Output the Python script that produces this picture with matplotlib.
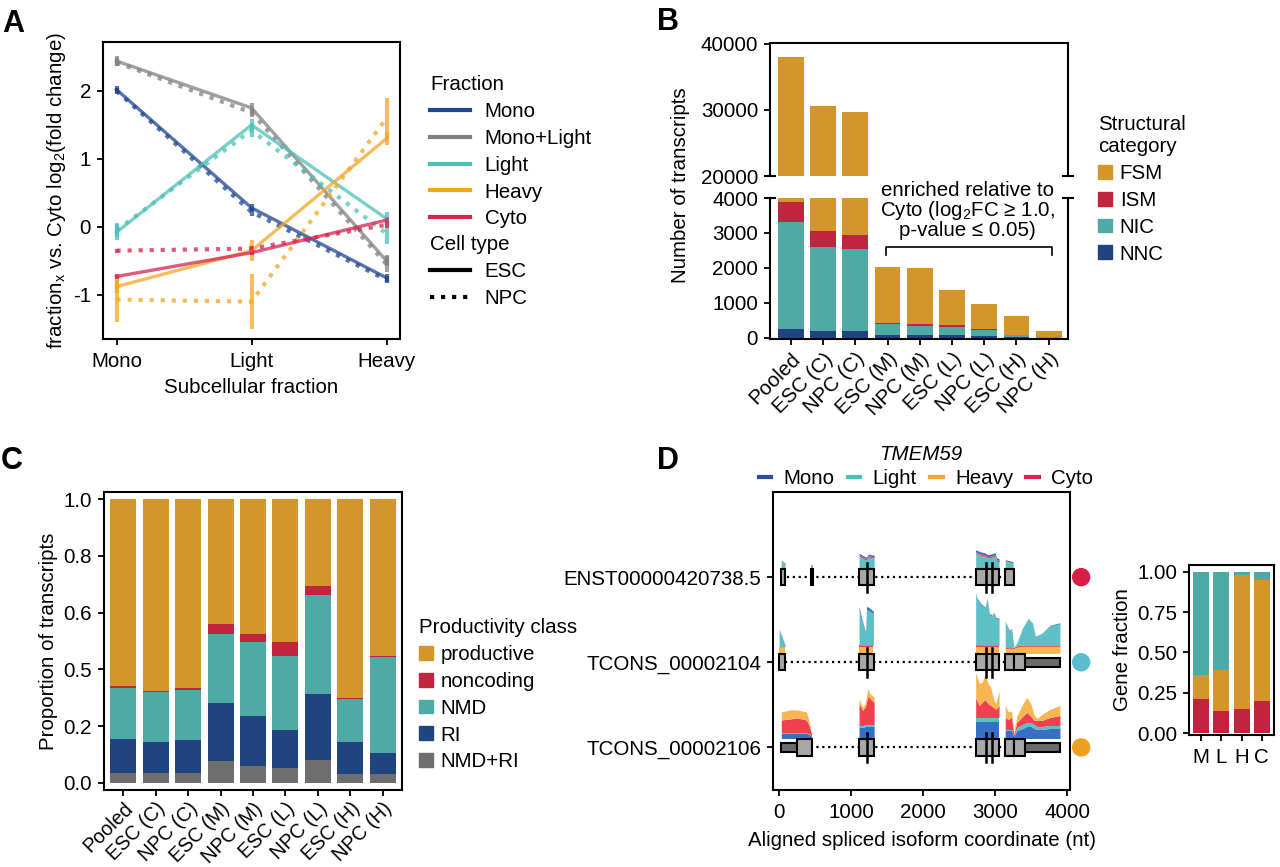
import matplotlib
matplotlib.use('Agg')
import matplotlib.pyplot as plt
from matplotlib.lines import Line2D
from matplotlib.patches import Patch, Rectangle
import numpy as np

FS = 14.8
plt.rcParams['font.family'] = ['Liberation Sans', 'DejaVu Sans']
plt.rcParams['font.size'] = FS
plt.rcParams['mathtext.default'] = 'regular'
plt.rcParams['axes.unicode_minus'] = False
plt.rcParams['axes.linewidth'] = 1.5
plt.rcParams['xtick.major.width'] = 1.3
plt.rcParams['ytick.major.width'] = 1.3
plt.rcParams['xtick.major.size'] = 4.5
plt.rcParams['ytick.major.size'] = 4.5
plt.rcParams['xtick.major.pad'] = 5
plt.rcParams['ytick.major.pad'] = 4

# ---------------- data ----------------
# A: log2 fold change vs Cyto (rows: Mono, Mono+Light, Light, Heavy, Cyto)
frac_x = ['Mono', 'Light', 'Heavy']
frac_names = ['Mono', 'Mono+Light', 'Light', 'Heavy', 'Cyto']
esc_lfc = [[2.02, 0.28, -0.75], [2.44, 1.75, -0.50], [-0.08, 1.50, 0.12],
           [-0.88, -0.35, 1.30], [-0.73, -0.38, 0.10]]
esc_err = [[0.05, 0.05, 0.06], [0.07, 0.07, 0.08], [0.12, 0.08, 0.10],
           [0.10, 0.15, 0.10], [0.04, 0.04, 0.04]]
npc_lfc = [[2.00, 0.22, -0.78], [2.42, 1.68, -0.55], [-0.05, 1.42, -0.10],
           [-1.07, -1.10, 1.60], [-0.35, -0.32, 0.03]]
npc_err = [[0.05, 0.06, 0.05], [0.06, 0.06, 0.12], [0.10, 0.10, 0.15],
           [0.33, 0.40, 0.30], [0.03, 0.04, 0.04]]

# B: number of transcripts by structural category
sample_labels = ['Pooled', 'ESC (C)', 'NPC (C)', 'ESC (M)', 'NPC (M)',
                 'ESC (L)', 'NPC (L)', 'ESC (H)', 'NPC (H)']
b_nnc = [268, 200, 190, 77, 77, 77, 57, 29, 10]
b_nic = [3033, 2393, 2346, 315, 267, 248, 182, 45, 19]
b_ism = [575, 469, 411, 48, 67, 39, 29, 8, 4]
b_fsm = [34124, 27518, 26823, 1598, 1589, 1014, 708, 537, 158]

# C: proportion of transcripts by productivity class
c_nmdri = [0.035, 0.035, 0.035, 0.078, 0.060, 0.052, 0.080, 0.033, 0.031]
c_ri = [0.118, 0.110, 0.115, 0.202, 0.175, 0.136, 0.232, 0.112, 0.076]
c_nmd = [0.182, 0.174, 0.179, 0.245, 0.263, 0.259, 0.350, 0.150, 0.335]
c_noncoding = [0.005, 0.005, 0.005, 0.035, 0.027, 0.051, 0.031, 0.004, 0.005]
c_productive = [0.660, 0.676, 0.666, 0.440, 0.475, 0.502, 0.307, 0.701, 0.553]

# D: TMEM59 isoforms
isoform_names = ['ENST00000420738.5', 'TCONS_00002104', 'TCONS_00002106']
enst_cds = [(25, 85), (440, 475), (1110, 1320), (2730, 3055), (3140, 3265)]
enst_utr = []
t04_cds = [(0, 85), (1110, 1320), (2730, 3055), (3140, 3265), (3265, 3420)]
t04_utr = [(3420, 3900)]
t06_cds = [(245, 455), (1110, 1320), (2730, 3055), (3140, 3265), (3265, 3420)]
t06_utr = [(30, 245), (3420, 3900)]
junction_marks = [1218, 2880, 2960]

# coverage per fraction (stacked), one sub-list per exon
enst_cov_x = [[28, 83], [440, 472], [1110, 1180, 1210, 1240, 1320],
              [2730, 2790, 2850, 2900, 2960, 3000, 3020, 3055], [3140, 3250]]
enst_light = [[7, 4], [3, 3], [12, 9, 8, 11, 10], [15, 13, 12, 10, 11, 12, 7, 6], [7, 5]]
enst_cyto = [[0.5, 0.5], [0, 0], [1.5, 1.5, 1.5, 1.5, 1.5],
             [1.5, 1.5, 1.5, 1.5, 1.5, 1.5, 1.5, 1.5], [0.5, 0.5]]
enst_mono = [[0.5, 0.5], [0.3, 0.3], [1.5, 1.5, 1.5, 1.5, 1.5],
             [2, 2, 2, 2, 2, 2, 2, 2], [1, 1]]

t04_cov_x = [[0, 40, 83], [1110, 1150, 1200, 1215, 1260, 1310],
             [2730, 2750, 2800, 2860, 2890, 2920, 2960, 2980, 3010, 3055],
             [3140, 3200, 3230, 3260, 3300, 3380, 3460, 3520, 3560, 3650, 3760, 3900]]
t04_heavy = [[6, 6, 6], [6, 6, 6, 6, 6, 6], [6, 6, 6, 6, 6, 6, 6, 6, 6, 6],
             [5, 5, 5, 5, 6, 7, 7, 7, 7, 7, 7, 7]]
t04_cyto = [[0.5, 0.5, 0.5], [2, 2, 2, 2, 2, 2], [2, 2, 2, 2, 2, 2, 2, 2, 2, 2],
            [1.5, 1.5, 1.5, 1, 1.5, 1.5, 1.5, 1.5, 1.5, 1.5, 1.5, 1.5]]
t04_light = [[17, 10, 2], [36, 24, 13, 36, 34, 32],
             [51, 46, 41, 37, 46, 31, 29, 32, 27, 26],
             [25, 16, 18, 0, 2, 16, 26, 21, 8, 11, 19, 21]]
t04_mono = [[0.5, 0.5, 0], [3, 2, 1, 3, 3, 2], [1, 1, 1, 1, 1, 1, 1, 1, 1, 1],
            [0.5, 0.5, 0.5, 0, 0.5, 0.5, 0.5, 0.5, 0.5, 0.5, 0.5, 1]]

t06_cov_x = [[30, 150, 250, 380, 420, 450], [1110, 1160, 1200, 1230, 1260, 1320],
             [2730, 2780, 2820, 2860, 2900, 2940, 2980, 3010, 3055],
             [3140, 3180, 3230, 3260, 3300, 3380, 3440, 3500, 3540, 3580, 3650, 3760, 3900]]
t06_mono = [[5, 5, 5, 5, 4, 2], [11, 11, 12, 12, 12, 12], [16, 16, 16, 16, 16, 16, 16, 16, 16],
            [8, 8, 8, 2, 8, 10, 12, 12, 10, 9, 9, 10, 10]]
t06_light = [[0.5, 0.5, 0.5, 0.5, 0.5, 0.5], [2, 2, 2, 2, 2, 2], [5, 5, 5, 5, 5, 5, 5, 5, 5],
             [1, 1, 1, 0, 3, 4, 4, 4, 4, 3, 3, 3, 3]]
t06_cyto = [[13, 14, 15, 13, 8, 2], [22, 15, 18, 28, 26, 22], [20, 12, 15, 18, 14, 12, 10, 8, 12],
            [12, 10, 12, 2, 5, 8, 10, 6, 4, 6, 6, 8, 10]]
t06_heavy = [[8, 9, 8, 8, 4, 0], [5, 3, 4, 8, 5, 5], [25, 22, 20, 25, 20, 18, 8, 6, 15],
             [12, 8, 6, 1, 6, 12, 15, 12, 6, 2, 6, 8, 10]]

# gene fraction per subcellular fraction
gf_labels = ['M', 'L', 'H', 'C']
gf_enst = [0.21, 0.14, 0.15, 0.20]
gf_t06 = [0.15, 0.25, 0.83, 0.75]
gf_t04 = [0.64, 0.61, 0.02, 0.05]

# ---------------- colours ----------------
frac_colors = ['#1F4690', '#808080', '#4FC0B8', '#F5A623', '#D62350']
col_fsm, col_ism, col_nic, col_nnc, col_grey = '#D4952B', '#C0243F', '#4FAAA5', '#1F4480', '#6E6E6E'
cov_colors = {'Mono': '#3470C6', 'Light': '#5EC0C4', 'Heavy': '#F7B651', 'Cyto': '#F0404F'}
leg_d_colors = ['#2A4F9B', '#4FC0B8', '#F2A53A', '#D62350']
dot_colors = ['#D81E45', '#5BBCD0', '#F0A020']

W, H = 1280, 867
fig = plt.figure(figsize=(12.8, 8.67), dpi=100)


def add_ax(l, t, r, b):
    return fig.add_axes([l / W, 1 - b / H, (r - l) / W, (b - t) / H])


def figtext(x, y, s, **kw):
    fig.text(x / W, 1 - y / H, s, **kw)


leg_kw = dict(frameon=False, alignment='left', borderpad=0, title_fontsize=FS,
              labelspacing=0.38, loc='upper left')

# ---------------- A ----------------
axA = add_ax(103, 42, 400, 339)
xa = np.arange(len(frac_x))
for i, col in enumerate(frac_colors):
    axA.errorbar(xa, esc_lfc[i], yerr=esc_err[i], color=col, lw=2.4, elinewidth=3,
                 alpha=0.75, capsize=0)
    axA.errorbar(xa, npc_lfc[i], yerr=npc_err[i], color=col, lw=3, ls=':', elinewidth=3,
                 alpha=0.75, capsize=0)
axA.set_xlim(-0.1, 2.1)
axA.set_ylim(-1.65, 2.72)
axA.set_xticks(xa)
axA.set_xticklabels(frac_x)
axA.set_yticks([-1, 0, 1, 2])
axA.set_xlabel('Subcellular fraction', labelpad=5)
axA.set_ylabel('fraction$_x$ vs. Cyto log$_2$(fold change)')

hA1 = [Line2D([], [], color=c, lw=3) for c in frac_colors]
fig.legend(hA1, frac_names, title='Fraction', bbox_to_anchor=(420 / W, 1 - 65 / H),
           handlelength=1.95, handletextpad=0.7, **leg_kw)
hA2 = [Line2D([], [], color='black', lw=3), Line2D([], [], color='black', lw=3, ls=':')]
fig.legend(hA2, ['ESC', 'NPC'], title='Cell type', bbox_to_anchor=(420 / W, 1 - 225 / H),
           handlelength=1.95, handletextpad=0.7, **leg_kw)

# ---------------- B (broken axis) ----------------
axBt = add_ax(770, 43, 1068, 176)
axBb = add_ax(770, 198, 1068, 339)
xb = np.arange(len(sample_labels))
for ax in (axBt, axBb):
    bottom = np.zeros(len(xb))
    for vals, col in zip([b_nnc, b_nic, b_ism, b_fsm], [col_nnc, col_nic, col_ism, col_fsm]):
        ax.bar(xb, vals, 0.8, bottom=bottom, color=col)
        bottom += np.array(vals)
    ax.set_xlim(-0.65, 8.6)
axBt.set_ylim(20000, 40150)
axBt.set_yticks([20000, 30000, 40000])
axBt.spines['bottom'].set_visible(False)
axBt.set_xticks([])
axBb.set_ylim(-30, 4000)
axBb.set_yticks([0, 1000, 2000, 3000, 4000])
axBb.spines['top'].set_visible(False)
axBb.set_xticks(xb)
axBb.set_xticklabels(sample_labels, rotation=45, ha='right', rotation_mode='anchor')
axBb.tick_params(axis='x', pad=3)
for ax, yy in ((axBt, 0), (axBb, 1)):
    ax.plot([0, 1], [yy, yy], transform=ax.transAxes, marker='_', ms=9, mew=1.5,
            color='black', ls='none', clip_on=False)
figtext(681, 185, 'Number of transcripts', rotation=90, ha='center', va='center')

# bracket and note
axBb.plot([2.95, 2.95, 8.1, 8.1], [2370, 2600, 2600, 2370], color='black', lw=1.2)
axBb.text(5.47, 3650, 'enriched relative to\nCyto (log$_2$FC ≥ 1.0,\np-value ≤ 0.05)',
          ha='center', va='center', linespacing=0.95, clip_on=False)

hB = [Patch(color=c) for c in [col_fsm, col_ism, col_nic, col_nnc]]
fig.legend(hB, ['FSM', 'ISM', 'NIC', 'NNC'], title='Structural\ncategory',
           bbox_to_anchor=(1088 / W, 1 - 105 / H), handlelength=0.65, handleheight=0.65,
           handletextpad=0.4, **leg_kw)

# ---------------- C ----------------
axC = add_ax(104, 492, 402, 790)
xc = np.arange(len(sample_labels))
bottom = np.zeros(len(xc))
for vals, col in zip([c_nmdri, c_ri, c_nmd, c_noncoding, c_productive],
                     [col_grey, col_nnc, col_nic, col_ism, col_fsm]):
    axC.bar(xc, vals, 0.8, bottom=bottom, color=col)
    bottom += np.array(vals)
axC.set_xlim(-0.6, 8.6)
axC.set_ylim(-0.025, 1.025)
axC.set_yticks([0.0, 0.2, 0.4, 0.6, 0.8, 1.0])
axC.set_yticklabels(['0.0', '0.2', '0.5', '0.6', '0.8', '1.0'])
axC.set_xticks(xc)
axC.set_xticklabels(sample_labels, rotation=45, ha='right', rotation_mode='anchor',
                    fontsize=14.2)
axC.tick_params(axis='x', pad=2)
axC.set_ylabel('Proportion of transcripts')
hC = [Patch(color=c) for c in [col_fsm, col_ism, col_nic, col_nnc, col_grey]]
fig.legend(hC, ['productive', 'noncoding', 'NMD', 'RI', 'NMD+RI'], title='Productivity class',
           bbox_to_anchor=(409 / W, 1 - 608 / H), handlelength=0.65, handleheight=0.65,
           handletextpad=0.4, **leg_kw)

# ---------------- D ----------------
axD = add_ax(773, 492, 1070, 790)
box_h, utr_h = 0.19, 0.10
cov_scale = 1 / 85
tracks = [
    (2, enst_cds, enst_utr, enst_cov_x, [('Light', enst_light), ('Cyto', enst_cyto), ('Mono', enst_mono)]),
    (1, t04_cds, t04_utr, t04_cov_x, [('Heavy', t04_heavy), ('Cyto', t04_cyto),
                                      ('Light', t04_light), ('Mono', t04_mono)]),
    (0, t06_cds, t06_utr, t06_cov_x, [('Mono', t06_mono), ('Light', t06_light),
                                      ('Cyto', t06_cyto), ('Heavy', t06_heavy)]),
]
for y, cds, utr, cov_x, layers in tracks:
    base = y + box_h / 2 + 0.01
    for k, xs in enumerate(cov_x):
        xx = [xs[0]] + list(xs) + [xs[-1]]
        cum = np.zeros(len(xx))
        for name, vals in layers:
            h = np.array([0] + list(vals[k]) + [0], dtype=float)
            axD.fill_between(xx, base + cum * cov_scale, base + (cum + h) * cov_scale,
                             color=cov_colors[name], lw=0, zorder=1)
            cum += h
    segs = cds + utr
    x0 = min(s for s, e in segs)
    x1 = max(e for s, e in segs)
    axD.plot([x0, x1], [y, y], color='black', ls=':', lw=1.6, zorder=2)
    for s, e in utr:
        axD.add_patch(Rectangle((s, y - utr_h / 2), e - s, utr_h, facecolor='#6B6B6B',
                                edgecolor='black', lw=1.5, zorder=3))
    for s, e in cds:
        axD.add_patch(Rectangle((s, y - box_h / 2), e - s, box_h, facecolor='#A8A8A8',
                                edgecolor='black', lw=1.5, zorder=4))
    for m in junction_marks:
        axD.plot([m, m], [y - 0.17, y + 0.17], color='black', lw=1.8, zorder=5)
axD.scatter([4195, 4195, 4195], [2, 1, 0], s=150, c=dot_colors, clip_on=False, zorder=6)
axD.set_xlim(-85, 4040)
axD.set_ylim(-0.5, 3.0)
axD.set_xticks([0, 1000, 2000, 3000, 4000])
axD.set_yticks([2, 1, 0])
axD.set_yticklabels(isoform_names)
axD.set_xlabel('Aligned spliced isoform coordinate (nt)', labelpad=6)
figtext(921, 455, 'TMEM59', style='italic', ha='center', va='center')
hD = [Line2D([], [], color=c, lw=3) for c in leg_d_colors]
fig.legend(hD, ['Mono', 'Light', 'Heavy', 'Cyto'], loc='center', ncol=4,
           bbox_to_anchor=(926 / W, 1 - 479 / H), frameon=False, handlelength=0.6,
           handletextpad=0.6, columnspacing=0.65, borderpad=0)

# gene fraction
axG = add_ax(1189, 565, 1274, 735)
xg = np.arange(len(gf_labels))
bottom = np.zeros(len(xg))
for vals, col in zip([gf_enst, gf_t06, gf_t04], [col_ism, col_fsm, col_nic]):
    axG.bar(xg, vals, 0.78, bottom=bottom, color=col)
    bottom += np.array(vals)
axG.set_xlim(-0.6, 3.6)
axG.set_ylim(-0.012, 1.043)
axG.set_yticks([0, 0.25, 0.5, 0.75, 1.0])
axG.set_yticklabels(['0.00', '0.25', '0.50', '0.75', '1.00'])
axG.set_xticks(xg)
axG.set_xticklabels(gf_labels)
axG.set_ylabel('Gene fraction')

# panel letters
for x, y, s in [(13, 24, 'A'), (668, 22, 'B'), (12, 461, 'C'), (668, 461, 'D')]:
    figtext(x, y, s, fontsize=22, fontweight='bold', ha='center', va='center')

fig.savefig('out.png', dpi=100)
